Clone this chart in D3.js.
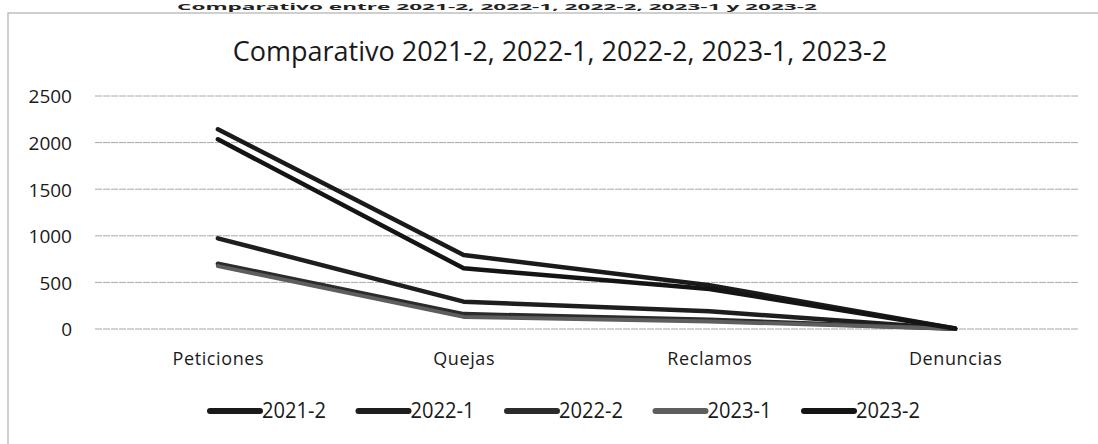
<!DOCTYPE html>
<html><head><meta charset="utf-8">
<script src="https://cdn.jsdelivr.net/npm/d3@7/dist/d3.min.js"></script>
<style>body{margin:0;background:#fff;overflow:hidden}svg{display:block}</style>
</head><body><svg id="c" width="1098" height="444"></svg>
<script>
const categories = ["Peticiones","Quejas","Reclamos","Denuncias"];
const seriesNames = ["2021-2","2022-1","2022-2","2023-1","2023-2"];
const s2021_2 = [2143, 794, 470, 5];
const s2022_1 = [973, 293, 190, 3];
const s2022_2 = [700, 160, 100, 2];
const s2023_1 = [675, 130, 80, 2];
const s2023_2 = [2035, 651, 430, 5];
const yTicks = [0, 500, 1000, 1500, 2000, 2500];
const seriesValues = [s2021_2, s2022_1, s2022_2, s2023_1, s2023_2];
const colors = ["#1a1a1a","#1e1e1e","#2b2b2b","#5e5e5e","#141414"];
const widths = [4.5, 4.5, 4.5, 4, 4.5];

const svg = d3.select("#c");
const font = "'Open Sans',sans-serif";

// top caption (cut in the scan)
svg.append("text").attr("x", 497).attr("y", 10).attr("text-anchor","middle")
  .attr("font-family", font).attr("font-weight","bold").attr("font-size", 9).attr("fill","#222")
  .attr("textLength", 640).attr("lengthAdjust","spacingAndGlyphs")
  .text("Comparativo entre 2021-2, 2022-1, 2022-2, 2023-1 y 2023-2");

// frame
svg.append("rect").attr("x", 8).attr("y", 13).attr("width", 1100).attr("height", 450)
  .attr("fill","none").attr("stroke","#b0b0b0").attr("stroke-width",1.2);

const x = d3.scalePoint().domain(categories).range([95, 1078]).padding(0.5);
const y = d3.scaleLinear().domain([0, 2500]).range([329, 96]);

// gridlines
svg.append("g").selectAll("line").data(yTicks).join("line")
  .attr("x1", 95).attr("x2", 1078).attr("y1", d => y(d)).attr("y2", d => y(d))
  .attr("stroke", "#a8a8a8").attr("stroke-width", 1).attr("stroke-dasharray","7,1");

// y axis
const ya = svg.append("g").attr("transform","translate(72,0)")
  .call(d3.axisLeft(y).tickValues(yTicks).tickFormat(d3.format("d")).tickSize(0).tickPadding(0));
ya.select(".domain").remove();
ya.selectAll("text").attr("font-family", font).attr("font-size", 19).attr("fill","#1a1a1a").attr("dy","0.36em");

// x axis
const xa = svg.append("g").attr("transform","translate(0,352)")
  .call(d3.axisBottom(x).tickSize(0).tickPadding(0));
xa.select(".domain").remove();
xa.selectAll("text").attr("font-family", font).attr("font-size", 18).attr("fill","#1a1a1a")
  .attr("letter-spacing", 0.6).attr("dy","0.71em");

// title
svg.append("text").attr("x", 560).attr("y", 61).attr("text-anchor","middle")
  .attr("font-family", font).attr("font-size", 27).attr("fill","#1a1a1a")
  .text("Comparativo 2021-2, 2022-1, 2022-2, 2023-1, 2023-2");

// lines
const line = d3.line().x((d,i) => x(categories[i])).y(d => y(d));
svg.append("g").selectAll("path").data(seriesValues).join("path")
  .attr("d", d => line(d)).attr("fill","none")
  .attr("stroke", (d,i) => colors[i]).attr("stroke-width", (d,i) => widths[i])
  .attr("stroke-linejoin","round").attr("stroke-linecap","round");

// legend
const legX = [208, 356.5, 505, 653.5, 802];
const lg = svg.append("g").selectAll("g").data(seriesNames).join("g")
  .attr("transform", (d,i) => `translate(${legX[i]},411)`);
lg.append("line").attr("x1",2).attr("x2",52).attr("y1",0).attr("y2",0)
  .attr("stroke", (d,i) => colors[i]).attr("stroke-width", 6).attr("stroke-linecap","round");
lg.append("text").attr("x", 54).attr("y", 7)
  .attr("font-family", font).attr("font-size", 21).attr("fill","#1a1a1a")
  .attr("textLength", 64).attr("lengthAdjust","spacingAndGlyphs").text(d => d);
</script></body></html>
